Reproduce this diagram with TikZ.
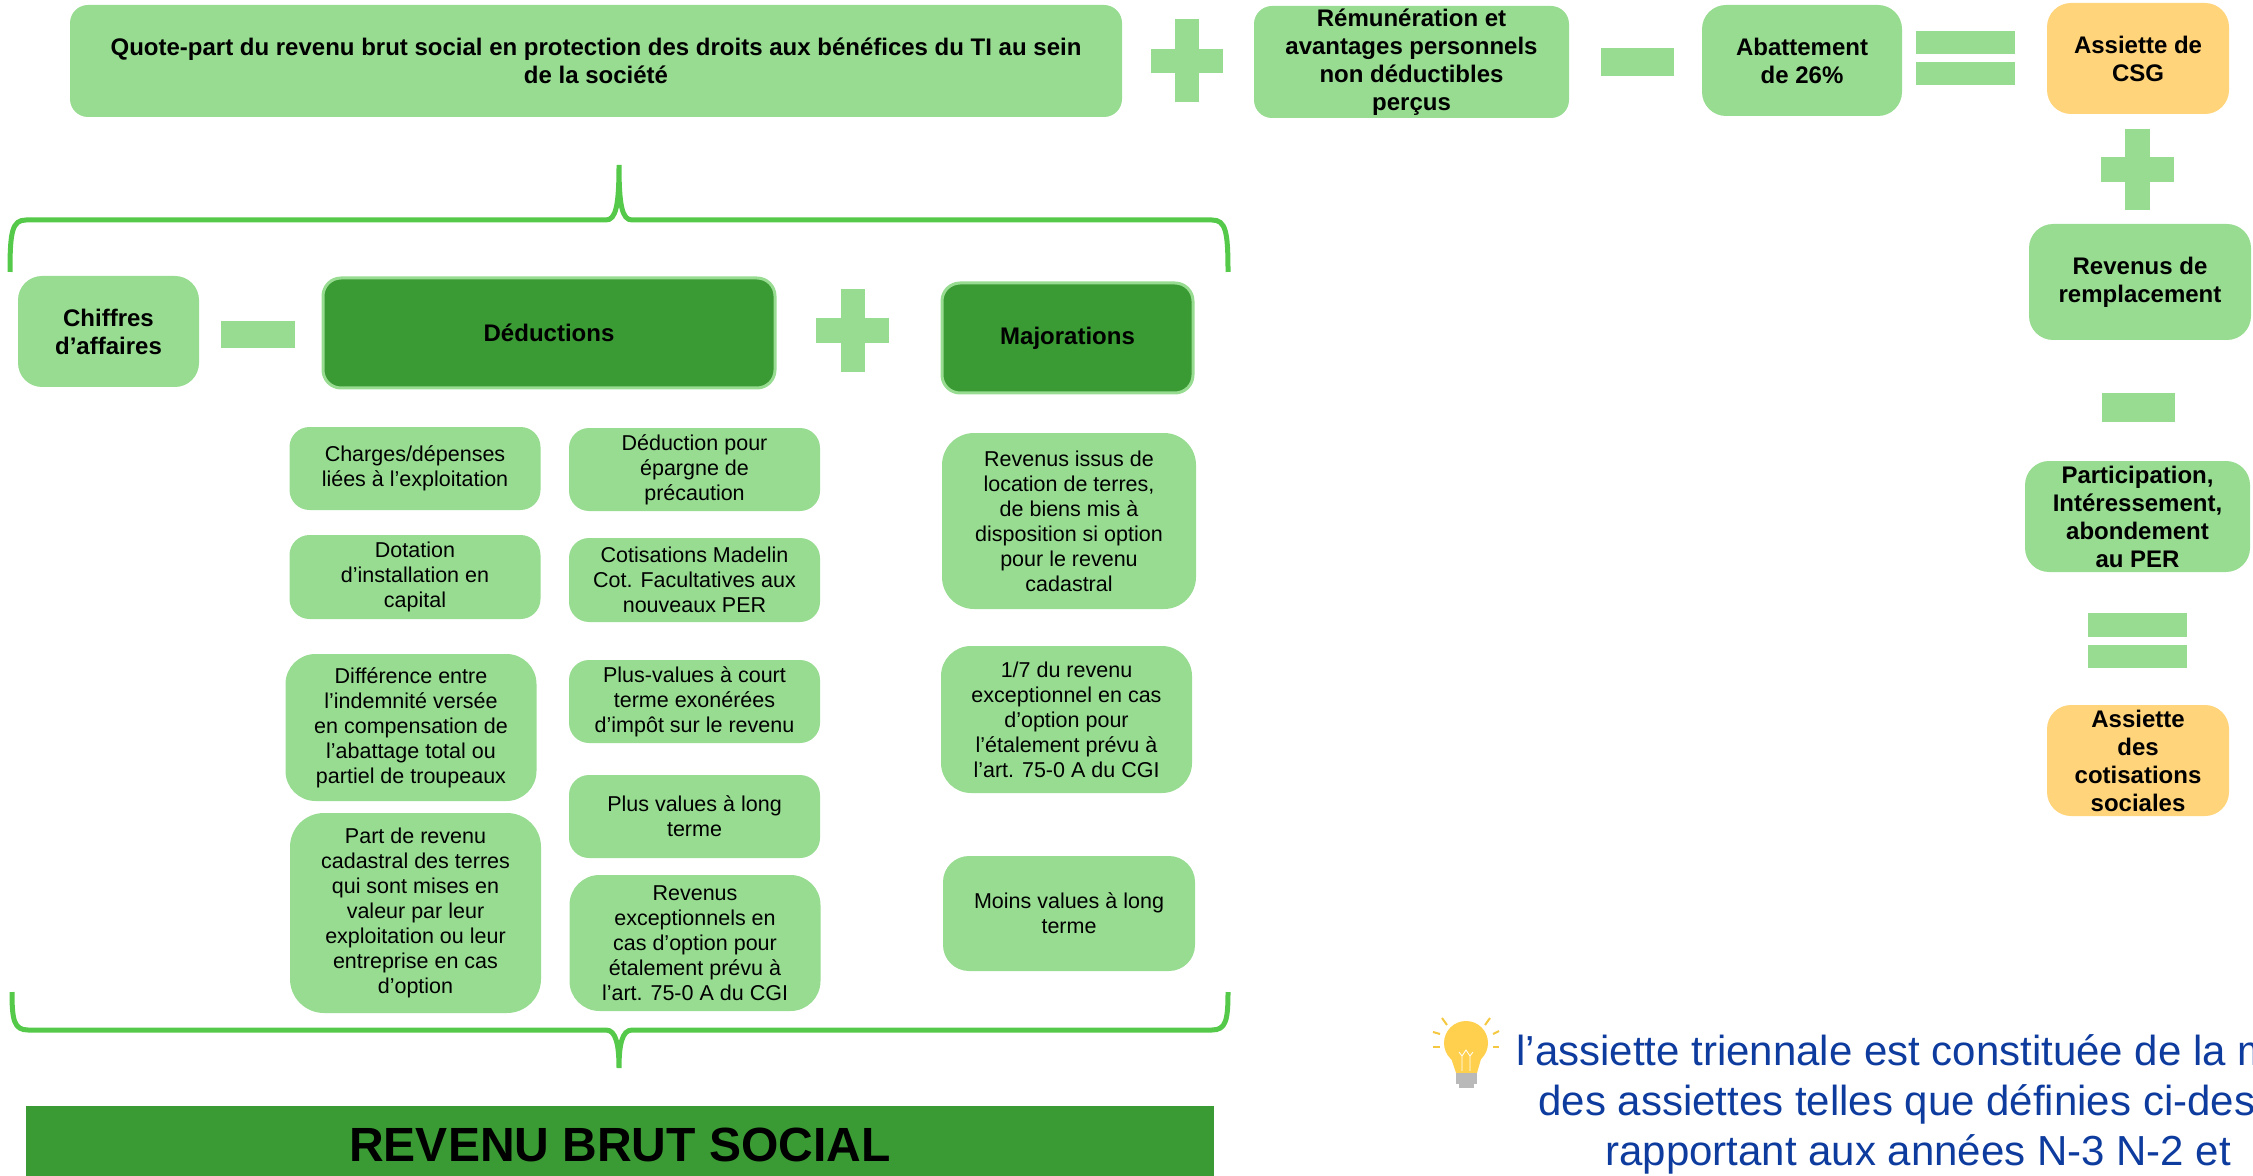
\documentclass[tikz,border=0pt]{standalone}
\usepackage{fontspec}
\setmainfont{Liberation Sans}
\usepackage{tikz}
\usetikzlibrary{positioning}
\definecolor{lightgreen}{HTML}{98DC92}
\definecolor{darkgreen}{HTML}{3A9A33}
\definecolor{bracegreen}{HTML}{55C94A}
\definecolor{orangebox}{HTML}{FFD47B}
\definecolor{noteblue}{HTML}{0D3B9E}
\definecolor{bulbyellow}{HTML}{FFD04D}
\definecolor{raycol}{HTML}{F5C842}

\begin{document}
\begin{tikzpicture}[x=0.5pt, y=-0.5pt,
    box/.style={rectangle, rounded corners=9pt, fill=lightgreen, align=center,
      inner sep=0pt, font=\bfseries\fontsize{12}{14}\selectfont},
    item/.style={box, rounded corners=10pt, font=\fontsize{10.75}{12.5}\selectfont,
      minimum width=125.5pt, minimum height=41.5pt},
    darkbox/.style={box, fill=darkgreen, draw=lightgreen, line width=1.5pt},
    assiette/.style={box, fill=orangebox, rounded corners=12pt,
      minimum width=91pt, minimum height=55.5pt},
    op/.style={fill=lightgreen},
    brace/.style={draw=bracegreen, line width=2.5pt}]
    \clip (0,0) rectangle (2253,1176);

    % ligne du haut
    \node[box, minimum width=526pt, minimum height=56pt] (quote) at (596,61)
      {Quote-part du revenu brut social en protection des droits aux bénéfices du TI au sein\\de la société};
    \node[box, minimum width=157.5pt, minimum height=56pt] (remun) at (1411.5,62)
      {Rémunération et\\avantages personnels\\non déductibles\\perçus};
    \node[box, minimum width=100pt, minimum height=55.5pt, rounded corners=12pt] (abat) at (1802,60.5)
      {Abattement\\de 26\%};
    \node[assiette] (csg) at (2138,58.5) {Assiette de\\CSG};

    \fill[op] (1151,49) rectangle (1223,73);
    \fill[op] (1175,19) rectangle (1199,102);
    \fill[op] (1601,48) rectangle (1674,76);
    \fill[op] (1916,31) rectangle (2015,54);
    \fill[op] (1916,62) rectangle (2015,85);

    % colonne de droite
    \fill[op] (2101,157) rectangle (2174,182);
    \fill[op] (2125,129) rectangle (2150,210);
    \node[box, minimum width=111pt, minimum height=58pt, rounded corners=12pt] (remplac) at (2140,282)
      {Revenus de\\remplacement};
    \fill[op] (2102,393) rectangle (2175,422);
    \node[box, minimum width=112.5pt, minimum height=55.5pt, rounded corners=12pt] (partic) at (2137.5,516.5)
      {Participation,\\Intéressement,\\abondement\\au PER};
    \fill[op] (2088,613) rectangle (2187,637);
    \fill[op] (2088,645) rectangle (2187,668);
    \node[assiette] (cotis) at (2138,760.5) {Assiette\\des\\cotisations\\sociales};

    % accolade du haut
    \draw[brace] (10,272) .. controls (10,232) and (12,220) .. (26,220) -- (606,220)
      .. controls (616,220) and (619,205) .. (619,165)
      .. controls (619,205) and (622,220) .. (632,220) -- (1212,220)
      .. controls (1226,220) and (1228,232) .. (1228,272);

    % calcul du revenu
    \node[box, minimum width=90.5pt, minimum height=55.5pt, rounded corners=12pt] (ca) at (108.5,331.5)
      {Chiffres\\d’affaires};
    \fill[op] (221,321) rectangle (295,348);
    \node[darkbox, minimum width=226pt, minimum height=55pt] (deduc) at (549,333) {Déductions};
    \fill[op] (816,318) rectangle (889,343);
    \fill[op] (841,289) rectangle (865,372);
    \node[darkbox, minimum width=125.5pt, minimum height=55pt] (major) at (1067.5,338) {Majorations};

    % déductions
    \node[item] (charges) at (415,468.5) {Charges/dépenses\\liées à l’exploitation};
    \node[item, minimum height=42pt] (dotation) at (415,577) {Dotation\\d’installation en\\capital};
    \node[item, minimum height=73.5pt, rounded corners=15pt] (diff) at (411,727.5)
      {Différence entre\\l’indemnité versée\\en compensation de\\l’abattage total ou\\partiel de troupeaux};
    \node[item, minimum height=100pt, rounded corners=17pt] (cadastre) at (415.5,913)
      {Part de revenu\\cadastral des terres\\qui sont mises en\\valeur par leur\\exploitation ou leur\\entreprise en cas\\d’option};
    \node[item] (epargne) at (694.5,469.5) {Déduction pour\\épargne de\\précaution};
    \node[item, minimum height=42pt] (madelin) at (694.5,580) {Cotisations Madelin\\Cot. Facultatives aux\\nouveaux PER};
    \node[item] (pvcourt) at (694.5,701.5) {Plus-values à court\\terme exonérées\\d’impôt sur le revenu};
    \node[item] (pvlong) at (694.5,816.5) {Plus values à long\\terme};
    \node[item, minimum height=68pt, rounded corners=15pt] (revexc) at (695,943)
      {Revenus\\exceptionnels en\\cas d’option pour\\étalement prévu à\\l’art. 75-0 A du CGI};

    % majorations
    \node[item, minimum width=127pt, minimum height=88pt, rounded corners=16pt] (location) at (1069,521)
      {Revenus issus de\\location de terres,\\de biens mis à\\disposition si option\\pour le revenu\\cadastral};
    \node[item, minimum height=73.5pt, rounded corners=15pt] (septieme) at (1066.5,719.5)
      {1/7 du revenu\\exceptionnel en cas\\d’option pour\\l’étalement prévu à\\l’art. 75-0 A du CGI};
    \node[item, minimum width=126pt, minimum height=57.5pt, rounded corners=13pt] (moinsval) at (1069,913.5)
      {Moins values à long\\terme};

    % accolade du bas
    \draw[brace] (12,992) .. controls (12,1020) and (14,1030) .. (28,1030) -- (606,1030)
      .. controls (616,1030) and (619,1045) .. (619,1068)
      .. controls (619,1045) and (622,1030) .. (632,1030) -- (1212,1030)
      .. controls (1226,1030) and (1228,1020) .. (1228,992);

    \node[rectangle, fill=darkgreen, minimum width=594pt, minimum height=39pt, inner sep=0pt,
      font=\bfseries\fontsize{24}{28}\selectfont] (rbs) at (620,1145) {REVENU BRUT SOCIAL};

    % ampoule
    \foreach \a/\b/\c/\d in {1433/1032/1440/1034, 1433/1047/1440/1047, 1442/1018/1447/1025,
        1490/1018/1485/1025, 1499/1031/1493/1034, 1499/1047/1493/1047}
      \draw[raycol, line width=1pt] (\a,\b) -- (\c,\d);
    \fill[bulbyellow] (1466,1043) circle [radius=11pt];
    \fill[bulbyellow] (1449,1052) -- (1483,1052) -- (1477,1073) -- (1456,1073) -- cycle;
    \fill[gray!55] (1456,1073) rectangle (1477,1084);
    \fill[gray!55] (1459,1084) rectangle (1474,1088);
    \draw[white, line width=0.4pt] (1462,1071) -- (1462,1055) (1470,1071) -- (1470,1055)
      (1459,1052) -- (1462,1056) -- (1466,1050) -- (1470,1056) -- (1473,1052);

    % note
    \node[anchor=base west, inner sep=0pt, text=noteblue, font=\fontsize{21}{25}\selectfont] (note1)
      at (1516,1065) {l’assiette triennale est constituée de la m};
    \node[anchor=base west, inner sep=0pt, text=noteblue, font=\fontsize{21}{25}\selectfont] (note2)
      at (1538,1115) {des assiettes telles que définies ci-dess};
    \node[anchor=base west, inner sep=0pt, text=noteblue, font=\fontsize{21}{25}\selectfont] (note3)
      at (1605,1165) {rapportant aux années N-3 N-2 et};
\end{tikzpicture}
\end{document}
